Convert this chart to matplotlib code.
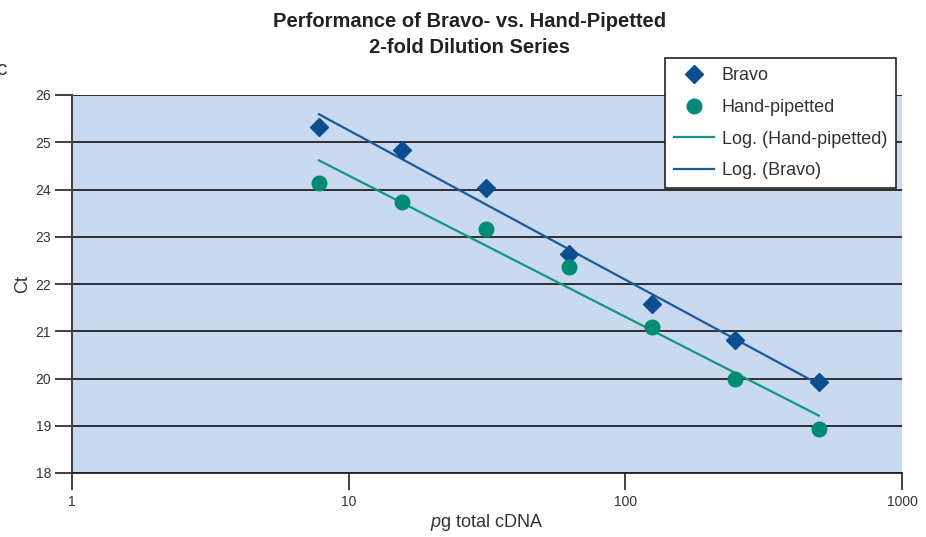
import numpy as np
import matplotlib
matplotlib.use("Agg")
import matplotlib.pyplot as plt
from matplotlib.lines import Line2D

FONT = ["Liberation Sans Narrow", "Liberation Sans", "DejaVu Sans"]
plt.rcParams['font.family'] = FONT
plt.rcParams['mathtext.fontset'] = 'custom'
plt.rcParams['mathtext.rm'] = 'Liberation Sans'
plt.rcParams['mathtext.it'] = 'Liberation Sans:italic'

# data: pg total cDNA (2-fold dilution) and Ct values
cdna_pg = [7.8125, 15.625, 31.25, 62.5, 125, 250, 500]
ct_bravo = [25.32, 24.84, 24.03, 22.63, 21.58, 20.82, 19.93]
ct_hand = [24.14, 23.74, 23.16, 22.36, 21.09, 19.99, 18.93]

yticks = [18, 19, 20, 21, 22, 23, 24, 25, 26]
xticks = [1, 10, 100, 1000]

bravo_col = "#0b4f91"
hand_col = "#008a78"
bravo_line = "#1b5a9a"
hand_line = "#13967f"

fig = plt.figure(figsize=(9.26, 5.37), dpi=100)
ax = fig.add_axes([72 / 926, 64 / 537, 830 / 926, 378 / 537])
ax.set_facecolor("#c9daf0")

# horizontal gridlines
for y in yticks:
    ax.axhline(y, color="#222222", lw=1.3, zorder=1)

# logarithmic trendlines (Excel-style: y = a*ln(x) + b)
x = np.array(cdna_pg)
for vals, col in [(ct_hand, hand_line), (ct_bravo, bravo_line)]:
    a, b = np.polyfit(np.log(x), np.array(vals), 1)
    xx = np.linspace(x.min(), x.max(), 50)
    ax.plot(xx, a * np.log(xx) + b, color=col, lw=1.6, zorder=2)

ax.plot(cdna_pg, ct_bravo, ls="none", marker="D", ms=9.5, color=bravo_col, zorder=3)
ax.plot(cdna_pg, ct_hand, ls="none", marker="o", ms=10.5, color=hand_col, zorder=3)

ax.set_xscale("log")
ax.set_xlim(1, 1000)
ax.set_ylim(18, 26)
ax.set_xticks(xticks)
ax.set_xticklabels([str(t) for t in xticks])
ax.xaxis.set_minor_locator(matplotlib.ticker.NullLocator())
ax.set_yticks(yticks)

for s in ["top", "right"]:
    ax.spines[s].set_visible(False)
ax.spines["left"].set_color("#444444")
ax.spines["left"].set_linewidth(1.5)
ax.spines["bottom"].set_color("#222222")
ax.spines["bottom"].set_linewidth(1.3)
ax.tick_params(axis="both", direction="out", length=12, width=1.3,
               color="#333333", labelsize=10, labelcolor="#333333")
ax.tick_params(axis="x", pad=4)
ax.tick_params(axis="y", pad=3)

ax.set_xlabel("$\\it{p}$g total cDNA", fontsize=13, color="#333333", labelpad=2)
ax.set_ylabel("Ct", fontsize=13, color="#333333", labelpad=3)

fig.text(0.507, 0.978, "Performance of Bravo- vs. Hand-Pipetted\n2-fold Dilution Series",
         ha="center", va="top", fontsize=14.5, fontweight="bold", color="#222222",
         linespacing=1.45)

# stray cropped character at the left edge
fig.text(-0.004, 0.87, "c", fontsize=15, color="#333333", ha="left", va="center")

handles = [
    Line2D([], [], ls="none", marker="D", ms=9.5, color=bravo_col),
    Line2D([], [], ls="none", marker="o", ms=10.5, color=hand_col),
    Line2D([], [], color=hand_line, lw=1.6),
    Line2D([], [], color=bravo_line, lw=1.6),
]
labels = ["Bravo", "Hand-pipetted", "Log. (Hand-pipetted)", "Log. (Bravo)"]
leg = fig.legend(handles, labels, loc="upper left",
                 bbox_to_anchor=(665 / 926, 1 - 58 / 537),
                 fontsize=13, frameon=True, fancybox=False, framealpha=1,
                 edgecolor="#222222", handlelength=2.2, handletextpad=0.45,
                 labelspacing=0.82, borderpad=0.5, borderaxespad=0)
leg.get_frame().set_linewidth(1.2)
for t in leg.get_texts():
    t.set_color("#333333")

fig.savefig("out.png", dpi=100)
